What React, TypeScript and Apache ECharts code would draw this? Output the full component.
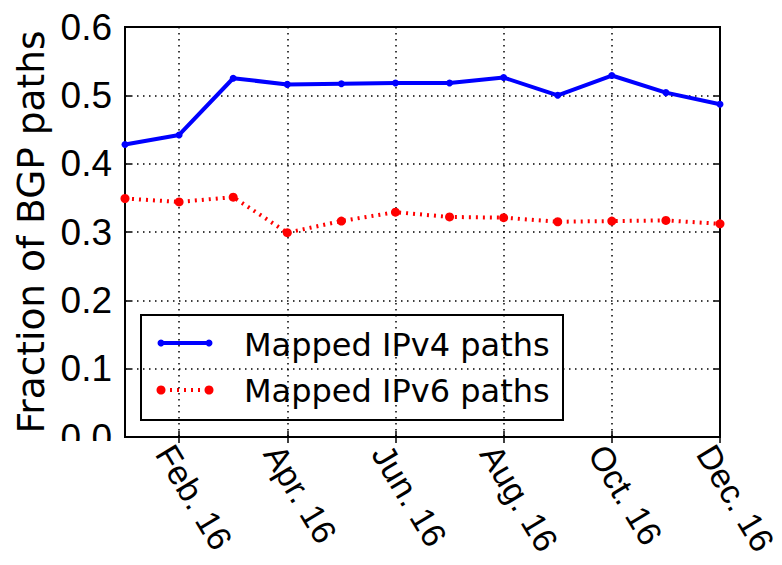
import React, { useEffect, useRef } from "react";
import * as echarts from "echarts";

const months = ["Jan. 16", "Feb. 16", "Mar. 16", "Apr. 16", "May. 16", "Jun. 16", "Jul. 16", "Aug. 16", "Sep. 16", "Oct. 16", "Nov. 16", "Dec. 16"];
const ipv4Values = [0.428, 0.442, 0.525, 0.516, 0.517, 0.518, 0.518, 0.526, 0.500, 0.529, 0.504, 0.487];
const ipv6Values = [0.349, 0.344, 0.351, 0.299, 0.316, 0.329, 0.322, 0.321, 0.315, 0.316, 0.317, 0.312];
const seriesNames = ["Mapped IPv4 paths", "Mapped IPv6 paths"];
const yAxisTitle = "Fraction of BGP paths";

const TICK_FONT = "'Liberation Sans', Arial, sans-serif";
const TEXT_FONT = "'DejaVu Sans', sans-serif";

export default function App() {
  const ref = useRef<HTMLDivElement>(null);
  useEffect(() => {
    if (!ref.current) return;
    document.documentElement.style.overflow = "hidden";
    document.body.style.margin = "0";
    document.body.style.overflow = "hidden";
    const chart = echarts.init(ref.current, null, { renderer: "svg", width: 782, height: 565 });
    const showOdd = (i: number) => i % 2 === 1;
    const grid = { left: 125, right: 62, top: 27, bottom: 128 };
    const gridLine = { show: true, interval: showOdd, lineStyle: { color: "#000", width: 1.5, type: [1.5, 4.5] } };
    const option: any = {
      animation: false,
      backgroundColor: "#fff",
      grid: { ...grid, show: true, borderColor: "#000", borderWidth: 2, containLabel: false, outerBoundsMode: "none" },
      xAxis: [
        {
          type: "category",
          data: months,
          boundaryGap: false,
          position: "bottom",
          axisLine: { show: true, lineStyle: { color: "#000", width: 2 } },
          axisTick: { show: true, inside: true, length: 6, interval: showOdd, lineStyle: { color: "#000", width: 1.5 } },
          axisLabel: {
            show: true,
            interval: showOdd,
            rotate: -59,
            align: "left",
            verticalAlign: "top",
            margin: 2,
            fontFamily: TICK_FONT,
            fontSize: 34,
            color: "#000",
            hideOverlap: false,
          },
          splitLine: gridLine,
        },
        {
          type: "category",
          data: months,
          boundaryGap: false,
          position: "top",
          axisLine: { show: true, lineStyle: { color: "#000", width: 2 } },
          axisTick: { show: true, inside: true, length: 6, interval: showOdd, lineStyle: { color: "#000", width: 1.5 } },
          axisLabel: { show: false },
          splitLine: { show: false },
        },
      ],
      yAxis: [
        {
          type: "value",
          min: 0,
          max: 0.6,
          interval: 0.1,
          position: "left",
          name: yAxisTitle,
          nameLocation: "middle",
          nameGap: 74,
          nameTextStyle: { fontFamily: TEXT_FONT, fontSize: 37.5, color: "#000" },
          axisLine: { show: true, lineStyle: { color: "#000", width: 2 } },
          axisTick: { show: true, inside: true, length: 6, lineStyle: { color: "#000", width: 1.5 } },
          axisLabel: {
            formatter: (v: number) => v.toFixed(1),
            fontFamily: TICK_FONT,
            fontSize: 37,
            color: "#000",
            margin: 13,
          },
          splitLine: { show: true, lineStyle: { color: "#000", width: 1.5, type: [1.5, 4.5] } },
        },
        {
          type: "value",
          min: 0,
          max: 0.6,
          interval: 0.1,
          position: "right",
          axisLine: { show: true, lineStyle: { color: "#000", width: 2 } },
          axisTick: { show: true, inside: true, length: 6, lineStyle: { color: "#000", width: 1.5 } },
          axisLabel: { show: false },
          splitLine: { show: false },
        },
      ],
      series: [
        {
          name: seriesNames[0],
          type: "line",
          data: ipv4Values,
          xAxisIndex: 0,
          yAxisIndex: 0,
          symbol: "circle",
          symbolSize: 7,
          itemStyle: { color: "#0000ff" },
          lineStyle: { color: "#0000ff", width: 4 },
          z: 3,
        },
        {
          name: seriesNames[1],
          type: "line",
          data: ipv6Values,
          xAxisIndex: 0,
          yAxisIndex: 0,
          symbol: "circle",
          symbolSize: 9,
          itemStyle: { color: "#ff0000" },
          lineStyle: { color: "#ff0000", width: 4, type: [2, 5], cap: "butt" },
          z: 3,
        },
      ],
      graphic: [
        { type: "rect", shape: { x: 40, y: 441, width: 82, height: 30 }, style: { fill: "#fff" }, z: 100 },
        {
          type: "group",
          z: 100,
          children: [
            { type: "rect", shape: { x: 141, y: 315, width: 422, height: 105 }, style: { fill: "#fff", stroke: "#000", lineWidth: 2 } },
            { type: "line", shape: { x1: 161, y1: 343, x2: 209, y2: 343 }, style: { stroke: "#0000ff", lineWidth: 4 } },
            { type: "circle", shape: { cx: 161, cy: 343, r: 3.5 }, style: { fill: "#0000ff" } },
            { type: "circle", shape: { cx: 209, cy: 343, r: 3.5 }, style: { fill: "#0000ff" } },
            { type: "line", shape: { x1: 163, y1: 390, x2: 207, y2: 390 }, style: { stroke: "#ff0000", lineWidth: 4, lineDash: [2, 5] } },
            { type: "circle", shape: { cx: 161, cy: 390, r: 4.5 }, style: { fill: "#ff0000" } },
            { type: "circle", shape: { cx: 209, cy: 390, r: 4.5 }, style: { fill: "#ff0000" } },
            { type: "text", x: 244, y: 345, style: { text: seriesNames[0], font: "32px 'DejaVu Sans', sans-serif", fill: "#000", verticalAlign: "middle", align: "left" } },
            { type: "text", x: 244, y: 391, style: { text: seriesNames[1], font: "32px 'DejaVu Sans', sans-serif", fill: "#000", verticalAlign: "middle", align: "left" } },
          ],
        },
      ],
    };
    chart.setOption(option);
    return () => chart.dispose();
  }, []);
  return <div ref={ref} style={{ position: "fixed", left: 0, top: 0, width: 782, height: 565 }} />;
}
